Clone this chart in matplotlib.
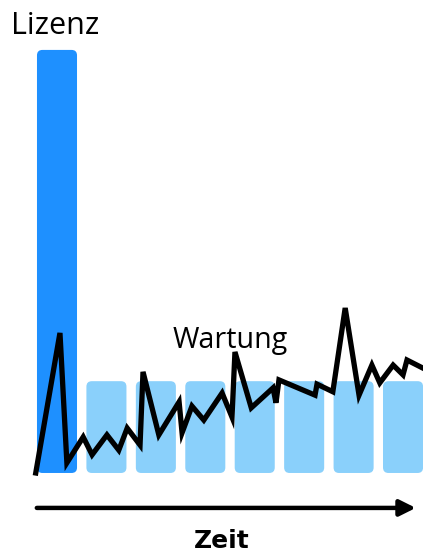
import matplotlib.pyplot as plt
from matplotlib.patches import FancyBboxPatch

# Daten
bar_pos = [0, 1, 2, 3, 4, 5, 6, 7]
bar_height = [100, 21.7, 21.7, 21.7, 21.7, 21.7, 21.7, 21.7]
bar_colors = ["#1E90FF"] + ["#8AD0FB"] * 7

# Kostenverlauf (Zeit, Kosten)
line_t = [-0.43, 0.06, 0.20, 0.53, 0.71, 1.01, 1.25, 1.42, 1.68, 1.74, 2.06,
          2.47, 2.53, 2.73, 2.97, 3.34, 3.54, 3.60, 3.93, 4.37, 4.43, 4.49,
          5.22, 5.26, 5.58, 5.83, 6.11, 6.37, 6.53, 6.80, 7.00, 7.08, 7.40]
line_v = [0, 33.1, 2.4, 8.5, 4.3, 9.0, 5.4, 10.6, 6.6, 23.9, 9.0,
          16.8, 9.5, 15.8, 12.5, 18.9, 13.2, 28.6, 15.4, 20.1, 16.6, 22.0,
          18.4, 21.0, 19.2, 39.0, 18.4, 25.5, 21.3, 25.5, 23.2, 26.7, 24.8]

fig = plt.figure(figsize=(4.23, 5.6), dpi=100)
ax = fig.add_axes([0, 0, 1, 1])
ax.set_xlim(-1.153, 7.404)
ax.set_ylim(-20.57, 111.8)
ax.axis("off")

# Balken mit runden Ecken
bars = ax.bar(bar_pos, bar_height, width=0.81, color=bar_colors)
for b in bars:
    x, y = b.get_x(), b.get_y()
    w, h = b.get_width(), b.get_height()
    patch = FancyBboxPatch((x, y), w, h,
                           boxstyle="round,pad=0,rounding_size=0.11",
                           mutation_aspect=11.69,
                           facecolor=b.get_facecolor(), edgecolor="none")
    b.remove()
    ax.add_patch(patch)

# Linie
ax.plot(line_t, line_v, color="black", lw=3.8, solid_joinstyle="miter", zorder=5)

# Texte
ax.text(0.027, 0.939, "Lizenz", transform=ax.transAxes, fontsize=22,
        family="Open Sans", va="baseline", ha="left")
ax.text(0.407, 0.379, "Wartung", transform=ax.transAxes, fontsize=20.6,
        family="Open Sans", va="baseline", ha="left", zorder=6)
ax.text(0.525, 0.021, "Zeit", transform=ax.transAxes, fontsize=18,
        family="DejaVu Sans", fontweight="bold", va="baseline", ha="center")

# Zeitachse als Pfeil
ax.annotate("", xy=(0.983, 0.093), xytext=(0.087, 0.093),
            xycoords="axes fraction", textcoords="axes fraction",
            arrowprops=dict(arrowstyle="-|>", lw=3.2, color="black",
                            mutation_scale=24, shrinkA=0, shrinkB=0))

plt.savefig("out.png", dpi=100)
